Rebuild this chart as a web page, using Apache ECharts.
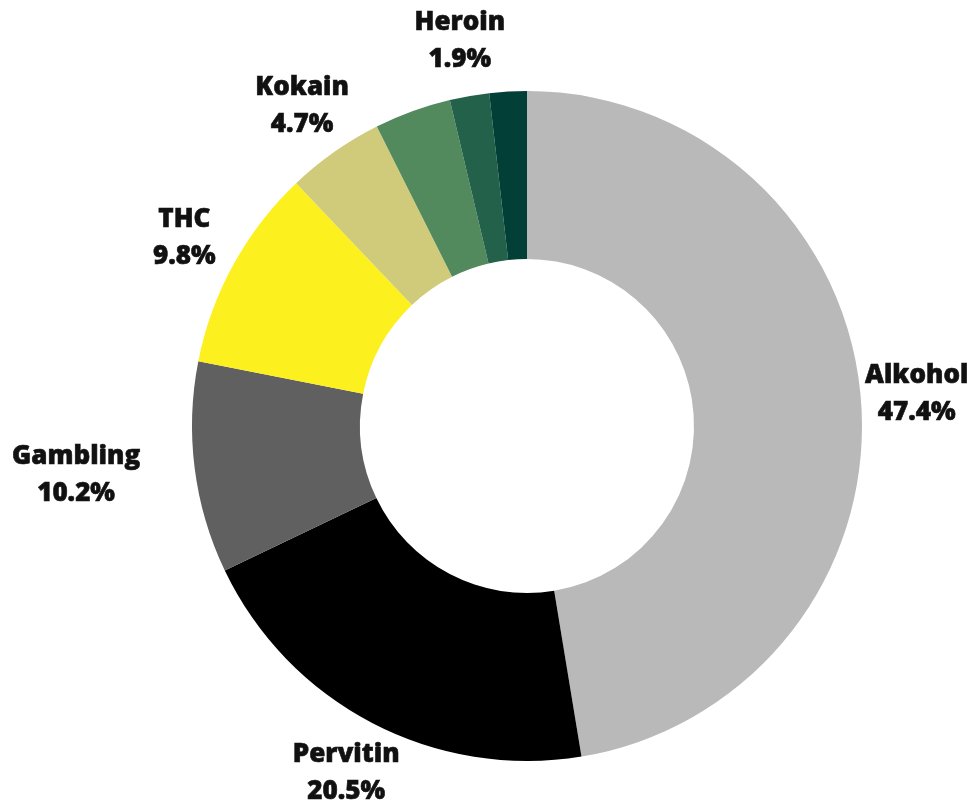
<!DOCTYPE html>
<html>
<head>
<meta charset="utf-8">
<script src="https://cdn.jsdelivr.net/npm/echarts@6/dist/echarts.min.js"></script>
<style>
  html, body { margin: 0; padding: 0; background: #fff; }
  #main { width: 974px; height: 805px; }
</style>
</head>
<body>
<div id="main"></div>
<script>
// data
const names = ["Alkohol", "Pervitin", "Gambling", "THC", "Kokain", "Ostatní", "Heroin", "Jiné"];
const values = [47.4, 20.5, 10.2, 9.8, 4.7, 3.7, 1.9, 1.8];
const colors = ["#b9b9b9", "#000000", "#606060", "#fdf01f", "#cfcb7a", "#52895d", "#23614b", "#023f36"];
const labeled = [true, true, true, true, true, false, true, false];

const chart = echarts.init(document.getElementById("main"));

const center = [527, 426];

const ringData = names.map((n, i) => ({
  name: n,
  value: values[i],
  itemStyle: { color: colors[i] }
}));

// transparent ring just outside the donut, only used to place labels
const labelData = names.map((n, i) => ({
  name: n,
  value: values[i],
  label: { show: labeled[i] }
}));

chart.setOption({
  animation: false,
  series: [
    {
      type: "pie",
      center: center,
      radius: [167, 335],
      startAngle: 90,
      clockwise: true,
      silent: true,
      label: { show: false },
      labelLine: { show: false },
      itemStyle: { borderWidth: 0 },
      data: ringData
    },
    {
      type: "pie",
      center: center,
      radius: [378, 398],
      startAngle: 90,
      clockwise: true,
      silent: true,
      avoidLabelOverlap: false,
      itemStyle: { color: "rgba(0,0,0,0)", borderWidth: 0 },
      label: {
        position: "inside",
        formatter: (p) => p.name + "\n" + p.value.toFixed(1) + "%",
        fontFamily: "Open Sans",
        fontWeight: 800,
        fontSize: 26,
        lineHeight: 37,
        color: "#111",
        textBorderColor: "#111",
        textBorderWidth: 0.6
      },
      labelLine: { show: false },
      labelLayout: (p) => (names[p.dataIndex] === "Gambling" ? { dx: -63 } : {}),
      data: labelData
    }
  ]
});
</script>
</body>
</html>
